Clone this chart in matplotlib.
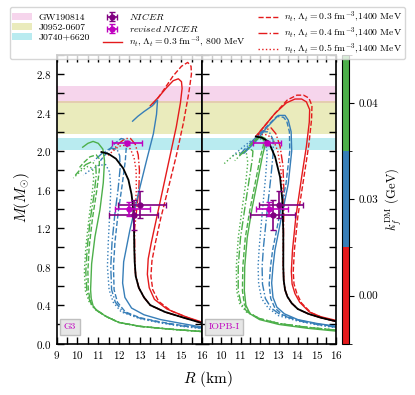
import matplotlib
matplotlib.use("Agg")
import matplotlib.pyplot as plt
from matplotlib.colors import ListedColormap, BoundaryNorm
from matplotlib.cm import ScalarMappable
from matplotlib.ticker import MultipleLocator

plt.rcParams["font.family"] = "serif"
plt.rcParams["font.serif"] = ["cmr10"]
plt.rcParams["mathtext.fontset"] = "cm"
plt.rcParams["axes.formatter.use_mathtext"] = True

RED, BLUE, GREEN = "#e41a1c", "#377eb8", "#4daf4a"

# observational bands (M_sun)
bands = [("GW190814", 2.50, 2.67, "tab:pink"),
         ("J0952-0607", 2.18, 2.52, "tab:olive"),
         ("J0740+6620", 2.01, 2.14, "tab:cyan")]

# NICER points: R, M and asymmetric errors
nicer_r = [13.02, 12.71]
nicer_m = [1.44, 1.34]
nicer_rerr = [[1.06, 1.19], [1.24, 1.14]]
nicer_merr = [[0.14, 0.16], [0.15, 0.15]]
rev_r = [12.38, 12.49]
rev_m = [2.08, 1.40]
rev_rerr = [[0.74, 0.70], [0.74, 1.0]]
rev_merr = [[0.02, 0.07], [0.02, 0.07]]

kf_labels = ["0.00", "0.03", "0.04"]

# ---------------- G3 ----------------
g3_black_r = [16.05, 15.1, 14.2, 13.5, 13.2, 12.95, 12.8, 12.75, 12.73, 12.72, 12.68, 12.6, 12.45, 12.2, 11.85, 11.5, 11.15]
g3_black_m = [0.21, 0.27, 0.33, 0.40, 0.48, 0.58, 0.70, 0.85, 1.0, 1.2, 1.4, 1.55, 1.70, 1.82, 1.92, 1.97, 1.99]

g3_red_solid_r = [16.05, 15.2, 14.3, 13.7, 13.45, 13.36, 13.4, 13.55, 13.8, 14.1, 14.45, 14.75, 14.95, 15.03, 15.0, 14.85, 14.6, 14.25, 13.9, 13.5]
g3_red_solid_m = [0.22, 0.28, 0.36, 0.46, 0.58, 0.72, 0.88, 1.05, 1.3, 1.6, 1.95, 2.25, 2.5, 2.65, 2.72, 2.75, 2.73, 2.65, 2.56, 2.47]
g3_red_dash_r = [16.05, 15.3, 14.5, 13.9, 13.62, 13.53, 13.58, 13.75, 14.0, 14.35, 14.75, 15.1, 15.35, 15.48, 15.46, 15.3, 15.0, 14.6, 14.1, 13.6]
g3_red_dash_m = [0.21, 0.27, 0.34, 0.44, 0.56, 0.70, 0.86, 1.05, 1.3, 1.6, 1.95, 2.3, 2.6, 2.8, 2.88, 2.92, 2.88, 2.78, 2.62, 2.47]
g3_red_dashdot_r = [16.05, 15.1, 14.2, 13.5, 13.2, 12.95, 12.8, 12.75, 12.75, 12.85, 12.95, 12.98, 12.92, 12.78, 12.55, 12.3, 12.0, 11.7]
g3_red_dashdot_m = [0.21, 0.27, 0.33, 0.40, 0.48, 0.58, 0.70, 0.85, 1.2, 1.4, 1.6, 1.8, 1.96, 2.07, 2.13, 2.13, 2.08, 2.01]
g3_red_dot_r = [16.05, 15.1, 14.2, 13.5, 13.2, 12.95, 12.8, 12.75, 12.72, 12.78, 12.83, 12.82, 12.72, 12.55, 12.3, 12.0, 11.7, 11.45]
g3_red_dot_m = [0.21, 0.27, 0.33, 0.40, 0.48, 0.58, 0.70, 0.85, 1.2, 1.4, 1.6, 1.8, 1.93, 2.02, 2.06, 2.05, 2.0, 1.95]

g3_blue_solid_r = [16.05, 15.0, 14.0, 13.2, 12.6, 12.28, 12.17, 12.22, 12.52, 12.93, 13.33, 13.65, 13.8, 13.85, 13.6, 13.2, 12.9, 12.65]
g3_blue_solid_m = [0.17, 0.21, 0.25, 0.30, 0.37, 0.48, 0.63, 0.85, 1.18, 1.56, 1.91, 2.18, 2.38, 2.53, 2.47, 2.41, 2.36, 2.31]
g3_blue_dash_r = [16.05, 15.0, 14.0, 13.0, 12.3, 11.92, 11.76, 11.73, 11.8, 11.95, 12.15, 12.3, 12.35, 12.28, 12.1, 11.8, 11.4, 11.1]
g3_blue_dash_m = [0.165, 0.19, 0.225, 0.27, 0.33, 0.43, 0.56, 0.80, 1.05, 1.35, 1.65, 1.90, 2.05, 2.12, 2.13, 2.08, 1.98, 1.9]
g3_blue_dashdot_r = [16.05, 15.0, 14.0, 13.0, 12.2, 11.82, 11.64, 11.6, 11.66, 11.8, 11.95, 12.05, 12.03, 11.9, 11.6, 11.2, 10.8]
g3_blue_dashdot_m = [0.16, 0.185, 0.22, 0.265, 0.33, 0.43, 0.56, 0.80, 1.05, 1.35, 1.60, 1.82, 1.95, 2.02, 2.03, 1.98, 1.9]
g3_blue_dot_r = [16.05, 15.0, 14.0, 13.0, 12.1, 11.72, 11.52, 11.44, 11.48, 11.55, 11.6, 11.55, 11.35, 11.0, 10.6, 10.28]
g3_blue_dot_m = [0.155, 0.18, 0.215, 0.26, 0.33, 0.43, 0.56, 0.80, 1.05, 1.35, 1.60, 1.78, 1.86, 1.85, 1.80, 1.75]

g3_green_solid_r = [16.05, 14.5, 13.0, 12.0, 11.4, 10.95, 10.76, 10.66, 10.63, 10.68, 10.84, 11.08, 11.24, 11.3, 11.22, 11.0, 10.75, 10.5, 10.25]
g3_green_solid_m = [0.125, 0.15, 0.18, 0.22, 0.28, 0.34, 0.385, 0.47, 0.56, 0.83, 1.11, 1.39, 1.67, 1.9, 2.02, 2.08, 2.10, 2.08, 2.04]
g3_green_dash_r = [16.05, 14.5, 13.0, 12.0, 11.4, 10.9, 10.65, 10.52, 10.5, 10.56, 10.72, 10.92, 11.05, 11.05, 10.9, 10.6, 10.3, 10.1]
g3_green_dash_m = [0.125, 0.15, 0.18, 0.22, 0.28, 0.35, 0.42, 0.55, 0.75, 1.0, 1.3, 1.58, 1.80, 1.92, 1.96, 1.94, 1.88, 1.83]
g3_green_dashdot_r = [16.05, 14.5, 13.0, 12.0, 11.4, 10.85, 10.6, 10.45, 10.4, 10.47, 10.62, 10.8, 10.9, 10.88, 10.7, 10.4, 10.1, 9.9]
g3_green_dashdot_m = [0.125, 0.15, 0.18, 0.22, 0.28, 0.36, 0.44, 0.55, 0.75, 1.0, 1.3, 1.55, 1.75, 1.85, 1.89, 1.86, 1.80, 1.75]
g3_green_dot_r = [16.05, 14.5, 13.0, 12.0, 11.4, 10.82, 10.55, 10.38, 10.33, 10.4, 10.55, 10.7, 10.78, 10.72, 10.5, 10.2, 9.8]
g3_green_dot_m = [0.125, 0.15, 0.18, 0.22, 0.28, 0.36, 0.44, 0.55, 0.75, 1.0, 1.3, 1.55, 1.72, 1.82, 1.84, 1.80, 1.72]

# ---------------- IOPB-I ----------------
iopb_black_r = [16.04, 15.2, 14.55, 14.0, 13.68, 13.45, 13.33, 13.26, 13.24, 13.24, 13.19, 13.07, 12.81, 12.46, 12.1, 11.8]
iopb_black_m = [0.23, 0.27, 0.31, 0.36, 0.42, 0.49, 0.56, 0.66, 0.80, 1.15, 1.49, 1.73, 1.94, 2.10, 2.14, 2.15]

iopb_red_solid_r = [16.04, 15.2, 14.6, 14.1, 13.85, 13.7, 13.66, 13.72, 13.9, 14.2, 14.45, 14.6, 14.62, 14.45, 14.2, 13.85, 13.4, 12.8, 12.3, 11.8]
iopb_red_solid_m = [0.24, 0.28, 0.33, 0.43, 0.52, 0.62, 0.75, 0.97, 1.32, 1.73, 2.05, 2.30, 2.43, 2.51, 2.54, 2.54, 2.50, 2.39, 2.27, 2.15]
iopb_red_dash_r = [16.04, 15.3, 14.7, 14.2, 13.95, 13.8, 13.76, 13.82, 14.0, 14.32, 14.58, 14.72, 14.74, 14.58, 14.3, 13.95, 13.45, 12.85, 12.3, 11.8]
iopb_red_dash_m = [0.23, 0.27, 0.32, 0.42, 0.52, 0.62, 0.75, 0.97, 1.32, 1.73, 2.07, 2.33, 2.47, 2.55, 2.58, 2.58, 2.53, 2.40, 2.27, 2.15]
iopb_red_dashdot_r = [16.04, 15.2, 14.55, 14.0, 13.68, 13.45, 13.33, 13.26, 13.24, 13.25, 13.28, 13.22, 13.07, 12.85, 12.6, 12.2, 11.8]
iopb_red_dashdot_m = [0.23, 0.27, 0.31, 0.36, 0.42, 0.49, 0.56, 0.66, 0.80, 1.15, 1.55, 1.85, 2.05, 2.18, 2.24, 2.21, 2.15]
iopb_red_dot_r = [16.04, 15.2, 14.55, 14.0, 13.68, 13.45, 13.33, 13.26, 13.24, 13.24, 13.2, 13.12, 12.95, 12.7, 12.4, 12.1, 11.8]
iopb_red_dot_m = [0.23, 0.27, 0.31, 0.36, 0.42, 0.49, 0.56, 0.66, 0.80, 1.15, 1.50, 1.80, 2.0, 2.12, 2.17, 2.17, 2.15]

iopb_blue_solid_r = [16.04, 15.0, 14.0, 13.3, 12.9, 12.7, 12.63, 12.7, 12.8, 13.15, 13.5, 13.68, 13.65, 13.5, 13.33, 12.98, 12.4, 11.8, 11.2]
iopb_blue_solid_m = [0.18, 0.21, 0.25, 0.31, 0.38, 0.48, 0.63, 0.80, 0.97, 1.32, 1.66, 2.0, 2.2, 2.32, 2.37, 2.37, 2.25, 2.10, 1.98]
iopb_blue_dash_r = [16.04, 15.0, 14.0, 13.2, 12.8, 12.58, 12.5, 12.57, 12.68, 13.03, 13.38, 13.58, 13.56, 13.42, 13.25, 12.9, 12.3, 11.7, 11.1]
iopb_blue_dash_m = [0.175, 0.205, 0.245, 0.30, 0.37, 0.47, 0.62, 0.80, 0.97, 1.32, 1.66, 2.0, 2.2, 2.31, 2.35, 2.36, 2.24, 2.10, 1.97]
iopb_blue_dashdot_r = [16.04, 15.0, 14.0, 13.1, 12.6, 12.3, 12.15, 12.13, 12.2, 12.4, 12.6, 12.72, 12.7, 12.5, 12.1, 11.5, 10.9]
iopb_blue_dashdot_m = [0.17, 0.2, 0.24, 0.30, 0.37, 0.47, 0.62, 0.80, 1.0, 1.39, 1.75, 2.0, 2.12, 2.20, 2.20, 2.08, 1.95]
iopb_blue_dot_r = [16.04, 15.0, 14.0, 13.0, 12.45, 12.1, 11.95, 11.92, 11.98, 12.15, 12.32, 12.4, 12.3, 12.0, 11.5, 11.0, 10.54]
iopb_blue_dot_m = [0.165, 0.195, 0.235, 0.29, 0.37, 0.47, 0.62, 0.80, 1.0, 1.39, 1.75, 1.98, 2.10, 2.13, 2.10, 2.02, 1.94]

iopb_green_solid_r = [16.04, 14.5, 13.0, 12.0, 11.5, 11.28, 11.2, 11.22, 11.35, 11.6, 11.9, 12.15, 12.3, 12.3, 12.1, 11.8, 11.5]
iopb_green_solid_m = [0.13, 0.16, 0.20, 0.25, 0.31, 0.40, 0.55, 0.80, 1.10, 1.40, 1.70, 1.95, 2.07, 2.13, 2.15, 2.12, 2.06]
iopb_green_dash_r = [16.04, 14.5, 13.0, 12.0, 11.45, 11.2, 11.1, 11.12, 11.25, 11.5, 11.8, 12.05, 12.2, 12.2, 12.0, 11.7, 11.4]
iopb_green_dash_m = [0.14, 0.17, 0.21, 0.26, 0.32, 0.41, 0.55, 0.80, 1.10, 1.40, 1.70, 1.95, 2.06, 2.12, 2.14, 2.10, 2.04]
iopb_green_dashdot_r = [16.04, 14.5, 13.0, 12.0, 11.35, 11.02, 10.88, 10.88, 11.0, 11.22, 11.45, 11.62, 11.65, 11.45, 11.1, 10.7]
iopb_green_dashdot_m = [0.14, 0.17, 0.21, 0.26, 0.33, 0.42, 0.55, 0.80, 1.10, 1.40, 1.70, 1.92, 2.0, 2.03, 1.98, 1.9]
iopb_green_dot_r = [16.04, 14.5, 13.0, 12.0, 11.3, 10.95, 10.8, 10.78, 10.88, 11.08, 11.28, 11.38, 11.32, 11.05, 10.6, 10.15]
iopb_green_dot_m = [0.14, 0.17, 0.21, 0.26, 0.33, 0.42, 0.55, 0.80, 1.10, 1.40, 1.68, 1.88, 1.97, 1.99, 1.95, 1.87]

panels = [
    ("G3", [
        (g3_red_solid_r, g3_red_solid_m, RED, "-"),
        (g3_red_dash_r, g3_red_dash_m, RED, "--"),
        (g3_red_dashdot_r, g3_red_dashdot_m, RED, "-."),
        (g3_red_dot_r, g3_red_dot_m, RED, ":"),
        (g3_blue_solid_r, g3_blue_solid_m, BLUE, "-"),
        (g3_blue_dash_r, g3_blue_dash_m, BLUE, "--"),
        (g3_blue_dashdot_r, g3_blue_dashdot_m, BLUE, "-."),
        (g3_blue_dot_r, g3_blue_dot_m, BLUE, ":"),
        (g3_green_solid_r, g3_green_solid_m, GREEN, "-"),
        (g3_green_dash_r, g3_green_dash_m, GREEN, "--"),
        (g3_green_dashdot_r, g3_green_dashdot_m, GREEN, "-."),
        (g3_green_dot_r, g3_green_dot_m, GREEN, ":"),
    ], (g3_black_r, g3_black_m)),
    ("IOPB-I", [
        (iopb_red_solid_r, iopb_red_solid_m, RED, "-"),
        (iopb_red_dash_r, iopb_red_dash_m, RED, "--"),
        (iopb_red_dashdot_r, iopb_red_dashdot_m, RED, "-."),
        (iopb_red_dot_r, iopb_red_dot_m, RED, ":"),
        (iopb_blue_solid_r, iopb_blue_solid_m, BLUE, "-"),
        (iopb_blue_dash_r, iopb_blue_dash_m, BLUE, "--"),
        (iopb_blue_dashdot_r, iopb_blue_dashdot_m, BLUE, "-."),
        (iopb_blue_dot_r, iopb_blue_dot_m, BLUE, ":"),
        (iopb_green_solid_r, iopb_green_solid_m, GREEN, "-"),
        (iopb_green_dash_r, iopb_green_dash_m, GREEN, "--"),
        (iopb_green_dashdot_r, iopb_green_dashdot_m, GREEN, "-."),
        (iopb_green_dot_r, iopb_green_dot_m, GREEN, ":"),
    ], (iopb_black_r, iopb_black_m)),
]

fig = plt.figure(figsize=(4.15, 3.95), dpi=100)
ax1 = fig.add_axes([0.1366, 0.1299, 0.3508, 0.7316])
ax2 = fig.add_axes([0.4875, 0.1299, 0.3222, 0.7316])
cax = fig.add_axes([0.824, 0.1299, 0.0169, 0.7316])

handles = []
for ax, (name, curves, black) in zip([ax1, ax2], panels):
    for lab, lo, hi, col in bands:
        h = ax.axhspan(lo, hi, color=col, alpha=0.3, lw=0, label=lab)
        if ax is ax1:
            handles.append(h)
    for r, m, col, ls in curves:
        ax.plot(r, m, color=col, ls=ls, lw=1.0)
    ax.plot(black[0], black[1], color="k", lw=1.3)
    e1 = ax.errorbar(nicer_r, nicer_m, xerr=nicer_rerr, yerr=nicer_merr, fmt="o",
                     color="purple", ms=3.5, capsize=2, elinewidth=1.2, label=r"$\mathit{NICER}$")
    e2 = ax.errorbar(rev_r, rev_m, xerr=rev_rerr, yerr=rev_merr, fmt="o",
                     color="m", ms=3.5, capsize=2, elinewidth=1.2, label=r"$\mathit{revised\ NICER}$")
    if ax is ax1:
        handles += [e1, e2]
    ax.text(0.05, 0.05, name, transform=ax.transAxes, color="m", fontsize=7,
            bbox=dict(facecolor="0.9", edgecolor="0.75", pad=2.5))
    ax.set_xlim(9, 16)
    ax.set_ylim(0, 3.0)
    ax.xaxis.set_major_locator(MultipleLocator(1))
    ax.xaxis.set_minor_locator(MultipleLocator(0.5))
    ax.yaxis.set_major_locator(MultipleLocator(0.4))
    ax.yaxis.set_minor_locator(MultipleLocator(0.2))
    ax.tick_params(which="both", direction="in", top=True, right=True, labelsize=8)
    ax.tick_params(which="major", length=5, width=1)
    ax.tick_params(which="minor", length=5, width=1)
    for s in ax.spines.values():
        s.set_linewidth(1.2)

ax2.set_yticklabels([])
ax2.set_xticks([10, 11, 12, 13, 14, 15, 16])

for ls, lab in [("-", r"$n_t,\Lambda_t=0.3\ \mathrm{fm}^{-3}$, 800 MeV"),
                ("--", r"$n_t,\Lambda_t=0.3\ \mathrm{fm}^{-3}$,1400 MeV"),
                ("-.", r"$n_t,\Lambda_t=0.4\ \mathrm{fm}^{-3}$,1400 MeV"),
                (":", r"$n_t,\Lambda_t=0.5\ \mathrm{fm}^{-3}$,1400 MeV")]:
    handles.append(plt.Line2D([], [], color=RED, ls=ls, lw=1.0, label=lab))

fig.legend(handles=handles, ncol=3, loc="upper center", bbox_to_anchor=(0.5, 0.995),
           fontsize=7, frameon=True, fancybox=True, columnspacing=1.3, handlelength=2.0,
           labelspacing=0.1, borderpad=0.28, handletextpad=0.7)

cmap = ListedColormap([RED, BLUE, GREEN])
norm = BoundaryNorm([0, 1, 2, 3], 3)
cb = fig.colorbar(ScalarMappable(norm=norm, cmap=cmap), cax=cax, ticks=[0.5, 1.5, 2.5])
cb.set_ticklabels(kf_labels)
cb.ax.tick_params(labelsize=8)
cb.set_label(r"$k_f^{\rm DM}$ (GeV)", fontsize=9)

fig.text(0.5, 0.03, r"$R$ (km)", ha="center", fontsize=11)
fig.text(0.03, 0.5, r"$M(M_{\odot})$", va="center", rotation=90, fontsize=11)

fig.savefig("out.png", dpi=100)
